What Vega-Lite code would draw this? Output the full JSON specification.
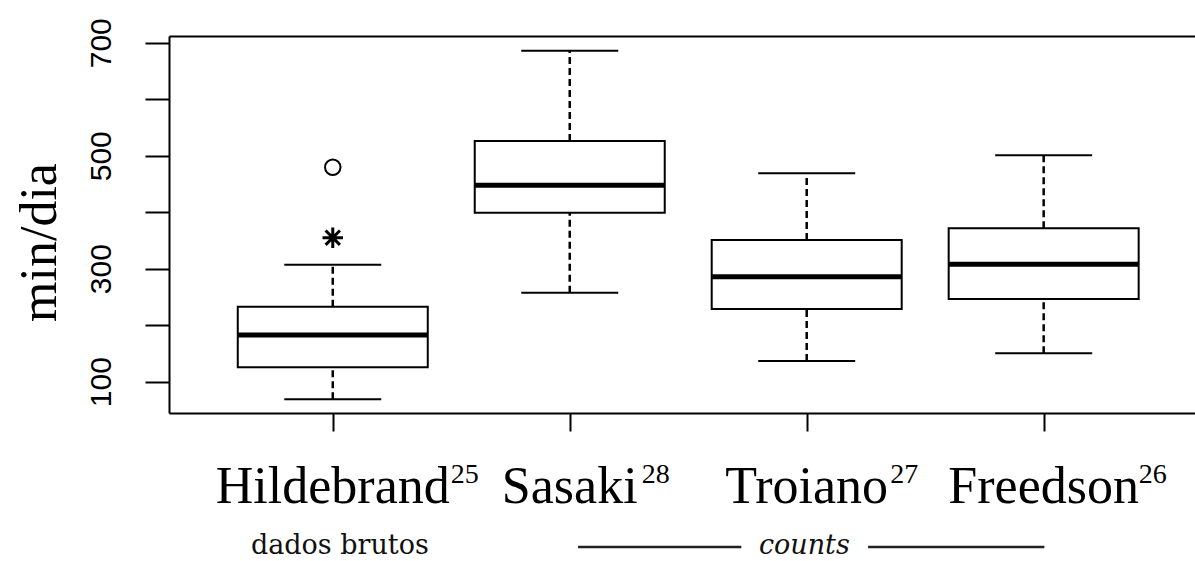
{
  "$schema": "https://vega.github.io/schema/vega-lite/v6.json",
  "width": 1026,
  "height": 377,
  "autosize": {"type": "none"},
  "padding": {"left": 169, "top": 36, "right": 0, "bottom": 148},
  "background": "white",
  "config": {"view": {"stroke": null}, "axis": {"grid": false}},
  "datasets": {
    "boxes": [
      {"name": "Hildebrand", "ref": "25", "x": 1, "lower": 69, "q1": 125.5, "median": 182.7, "q3": 232.7, "upper": 307},
      {"name": "Sasaki", "ref": "28", "x": 2, "lower": 257.5, "q1": 399, "median": 447.6, "q3": 526, "upper": 685.8},
      {"name": "Troiano", "ref": "27", "x": 3, "lower": 136.6, "q1": 228.7, "median": 285.8, "q3": 350.8, "upper": 468.8},
      {"name": "Freedson", "ref": "26", "x": 4, "lower": 150.3, "q1": 246.4, "median": 307.8, "q3": 371.5, "upper": 501}
    ],
    "outliers": [
      {"name": "Hildebrand", "x": 1, "value": 354.9, "kind": "asterisk"},
      {"name": "Hildebrand", "x": 1, "value": 479.5, "kind": "circle"}
    ],
    "notes": [
      {"label": "dados brutos", "x": 1.03, "style": "normal"},
      {"label": "counts", "x": 2.99, "style": "italic"}
    ],
    "segments": [
      {"start": 2.035, "end": 2.724},
      {"start": 3.259, "end": 4.003}
    ]
  },
  "layer": [
    {
      "data": {"name": "boxes"},
      "mark": {"type": "rule", "color": "black", "strokeWidth": 2.5, "strokeDash": [7, 4]},
      "encoding": {
        "x": {
          "field": "x", "type": "quantitative",
          "scale": {"domain": [0.33, 4.6175], "nice": false, "zero": false},
          "axis": {
            "orient": "bottom", "values": [1, 2, 3, 4], "labels": false, "title": null,
            "tickSize": 18, "tickWidth": 2, "tickColor": "black",
            "domainColor": "black", "domainWidth": 2, "grid": false
          }
        },
        "y": {
          "field": "lower", "type": "quantitative",
          "scale": {"domain": [44.6, 711.9], "nice": false, "zero": false},
          "axis": {
            "orient": "left",
            "values": [100, 200, 300, 400, 500, 600, 700],
            "labelExpr": "datum.value % 200 == 100 ? datum.label : ''",
            "labelAngle": -90, "labelAlign": "center", "labelBaseline": "alphabetic",
            "labelFont": "Liberation Sans", "labelFontSize": 30, "labelColor": "black",
            "labelPadding": 35, "labelOverlap": false, "labelBound": false, "labelFlush": false,
            "tickSize": 24, "tickWidth": 2, "tickColor": "black",
            "domainColor": "black", "domainWidth": 2, "grid": false,
            "title": "min/dia", "titleFont": "Liberation Serif", "titleFontSize": 52,
            "titleFontWeight": "normal", "titleColor": "black", "titleAngle": -90,
            "titleAlign": "center", "titleBaseline": "alphabetic", "titleX": -114, "titleY": 206
          }
        },
        "y2": {"field": "q1"}
      }
    },
    {
      "data": {"name": "boxes"},
      "mark": {"type": "rule", "color": "black", "strokeWidth": 2.5, "strokeDash": [7, 4]},
      "encoding": {
        "x": {
          "field": "x", "type": "quantitative",
          "axis": {
            "orient": "top", "labels": false, "ticks": false, "title": null,
            "domainColor": "black", "domainWidth": 2, "grid": false
          }
        },
        "y": {"field": "q3", "type": "quantitative"},
        "y2": {"field": "upper"}
      }
    },
    {
      "data": {"name": "boxes"},
      "mark": {"type": "bar", "size": 190, "fill": "white", "stroke": "black", "strokeWidth": 2},
      "encoding": {
        "x": {"field": "x", "type": "quantitative", "axis": null},
        "y": {"field": "q1", "type": "quantitative"},
        "y2": {"field": "q3"}
      }
    },
    {
      "data": {"name": "boxes"},
      "mark": {"type": "tick", "orient": "horizontal", "size": 190, "thickness": 5, "color": "black", "opacity": 1},
      "encoding": {
        "x": {"field": "x", "type": "quantitative", "axis": null},
        "y": {"field": "median", "type": "quantitative"}
      }
    },
    {
      "data": {"name": "boxes"},
      "mark": {"type": "tick", "orient": "horizontal", "size": 97, "thickness": 2, "color": "black", "opacity": 1},
      "encoding": {
        "x": {"field": "x", "type": "quantitative", "axis": null},
        "y": {"field": "lower", "type": "quantitative"}
      }
    },
    {
      "data": {"name": "boxes"},
      "mark": {"type": "tick", "orient": "horizontal", "size": 97, "thickness": 2, "color": "black", "opacity": 1},
      "encoding": {
        "x": {"field": "x", "type": "quantitative", "axis": null},
        "y": {"field": "upper", "type": "quantitative"}
      }
    },
    {
      "data": {"name": "outliers"},
      "transform": [{"filter": "datum.kind == 'circle'"}],
      "mark": {"type": "point", "shape": "circle", "filled": false, "stroke": "black", "strokeWidth": 2, "size": 240, "opacity": 1},
      "encoding": {
        "x": {"field": "x", "type": "quantitative", "axis": null},
        "y": {"field": "value", "type": "quantitative"}
      }
    },
    {
      "data": {"name": "outliers"},
      "transform": [{"filter": "datum.kind == 'asterisk'"}],
      "mark": {"type": "point", "shape": "M0,-1L0,1M-1,0L1,0M-0.7,-0.7L0.7,0.7M-0.7,0.7L0.7,-0.7", "filled": false, "stroke": "black", "strokeWidth": 3, "size": 420, "opacity": 1},
      "encoding": {
        "x": {"field": "x", "type": "quantitative", "axis": null},
        "y": {"field": "value", "type": "quantitative"}
      }
    },
    {
      "data": {"name": "boxes"},
      "mark": {"type": "text", "font": "Liberation Serif", "fontSize": 52, "align": "center", "baseline": "alphabetic", "dy": 90, "color": "black"},
      "encoding": {
        "x": {"field": "x", "type": "quantitative", "axis": null},
        "y": {"value": "height"},
        "text": {"field": "name"}
      }
    },
    {
      "data": {"name": "boxes"},
      "mark": {"type": "text", "font": "Liberation Serif", "fontSize": 28, "align": "left", "baseline": "alphabetic", "dy": 70, "dx": {"expr": "length(datum.name) * 11.5 + 3"}, "color": "black"},
      "encoding": {
        "x": {"field": "x", "type": "quantitative", "axis": null},
        "y": {"value": "height"},
        "text": {"field": "ref"}
      }
    },
    {
      "data": {"name": "notes"},
      "transform": [{"filter": "datum.style == 'normal'"}],
      "mark": {"type": "text", "font": "DejaVu Serif", "fontSize": 27, "align": "center", "baseline": "alphabetic", "dy": 141, "color": "#111"},
      "encoding": {
        "x": {"field": "x", "type": "quantitative", "axis": null},
        "y": {"value": "height"},
        "text": {"field": "label"}
      }
    },
    {
      "data": {"name": "notes"},
      "transform": [{"filter": "datum.style == 'italic'"}],
      "mark": {"type": "text", "font": "DejaVu Serif", "fontStyle": "italic", "fontSize": 27, "align": "center", "baseline": "alphabetic", "dy": 141, "color": "#111"},
      "encoding": {
        "x": {"field": "x", "type": "quantitative", "axis": null},
        "y": {"value": "height"},
        "text": {"field": "label"}
      }
    },
    {
      "data": {"name": "segments"},
      "mark": {"type": "rule", "color": "#222", "strokeWidth": 2.5, "yOffset": 134},
      "encoding": {
        "x": {"field": "start", "type": "quantitative", "axis": null},
        "x2": {"field": "end"},
        "y": {"value": "height"}
      }
    }
  ],
  "resolve": {"axis": {"x": "independent"}}
}
